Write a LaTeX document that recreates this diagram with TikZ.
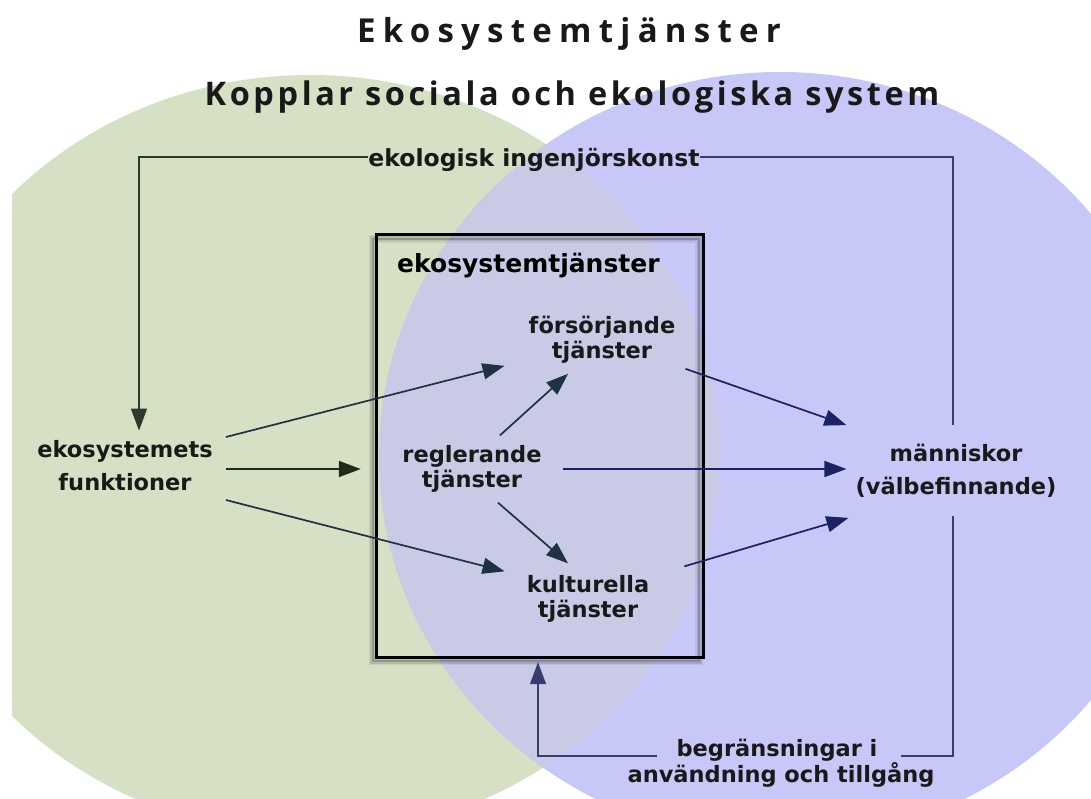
\documentclass[tikz,border=0pt]{standalone}
\usepackage{fontspec}
\setmainfont{DejaVu Sans}
\newfontfamily\headfont[LetterSpace=22]{Open Sans}
\newfontfamily\subheadfont[LetterSpace=11]{Open Sans}
\usetikzlibrary{arrows.meta}

\definecolor{ecogreen}{HTML}{D6E0C4}
\definecolor{socblue}{HTML}{C8C8F8}
\definecolor{mixcol}{HTML}{C9CBE6}
\definecolor{darkgreen}{HTML}{1E2B18}
\definecolor{slate}{HTML}{1F3144}
\definecolor{navy}{HTML}{1B2262}
\definecolor{loopgreen}{HTML}{2E3A2A}
\definecolor{loopblue}{HTML}{363C6E}

\begin{document}
\begin{tikzpicture}[x=1pt,y=-1pt,
  lbl/.style={font=\bfseries\fontsize{22.5}{25}\selectfont, align=center, inner sep=0pt, text=black!90},
  widelbl/.style={lbl, font=\bfseries\fontsize{22.5}{33}\selectfont},
  headtip/.style={-{Triangle[length=22pt,width=16pt]}},
  flowarrow/.style={line width=1.7pt, headtip},
  loopline/.style={line width=1.3pt},
]
\useasboundingbox (0,0) rectangle (1091,799);

% the two overlapping systems
\begin{scope}
  \clip (12,0) rectangle (1091,799);
  \fill[ecogreen] (310,455) ellipse [x radius=410pt, y radius=380pt];
  \fill[socblue] (780,457) ellipse [x radius=401pt, y radius=385pt];
  \clip (310,455) ellipse [x radius=410pt, y radius=380pt];
  \fill[mixcol] (780,457) ellipse [x radius=401pt, y radius=385pt];
\end{scope}

% headings
\node[font=\headfont\bfseries\fontsize{33}{38}\selectfont, text=black!90] (title) at (569,34) {Ekosystemtjänster};
\node[font=\subheadfont\bfseries\fontsize{32.5}{38}\selectfont, text=black!90] (subtitle) at (572,97) {Kopplar sociala och ekologiska system};

% the ecosystem services box with a soft shadow
\path node[minimum width=326pt, minimum height=422pt, inner sep=0pt] (box) at (540,446) {};
\foreach \w/\o in {8/0.07, 5/0.1, 2.5/0.18}
  \draw[black, opacity=\o, line width=\w pt]
    ([shift={(-4pt,-4pt)}]box.north west) rectangle ([shift={(-4pt,-4pt)}]box.south east);
\draw[line width=3pt] (box.north west) rectangle (box.south east);
\node[anchor=base west, font=\bfseries\fontsize{25}{30}\selectfont, inner sep=0pt] (boxlabel) at (397,273) {ekosystemtjänster};

% labels
\node[lbl, font=\bfseries\fontsize{23.5}{25}\selectfont] (ekologisk) at (534,160) {ekologisk ingenjörskonst};
\node[widelbl] (ekofunk) at (125,466) {ekosystemets\\funktioner};
\node[lbl] (forsorjande) at (602,340) {försörjande\\tjänster};
\node[lbl] (reglerande) at (472,469) {reglerande\\tjänster};
\node[lbl] (kulturella) at (588,599) {kulturella\\tjänster};
\node[widelbl] (manniskor) at (956,471) {människor\\(välbefinnande)};
\node[lbl, anchor=base] (bg1) at (777,756) {begränsningar i};
\node[lbl, anchor=base] (bg2) at (781,782) {användning och tillgång};

% flows from the ecosystem functions
\coordinate (boxin) at (ekofunk.east -| box.west);
\draw[flowarrow, slate] ([shift={(13pt,29pt)}]ekofunk.east) -- ([shift={(-24pt,-2pt)}]forsorjande.south west);
\draw[flowarrow, darkgreen] ([shift={(13pt,-3pt)}]ekofunk.east) -- ([shift={(-16pt,-3pt)}]boxin);
\draw[flowarrow, slate] ([shift={(13pt,-34pt)}]ekofunk.east) -- ([shift={(-22pt,4pt)}]kulturella.north west);

% flows inside the box
\draw[flowarrow, slate] ([shift={(28pt,10pt)}]reglerande.north) -- ([shift={(-34pt,-10pt)}]forsorjande.south);
\draw[flowarrow, slate] ([shift={(26pt,-10pt)}]reglerande.south) -- ([shift={(-20pt,12pt)}]kulturella.north);

% flows to people
\coordinate (peoplein) at (reglerande.east -| manniskor.west);
\draw[flowarrow, navy] ([xshift=21pt]reglerande.east) -- ([xshift=-9pt]peoplein);
\draw[flowarrow, navy] ([shift={(10pt,-5pt)}]forsorjande.south east) -- ([shift={(-9pt,19pt)}]manniskor.north west);
\draw[flowarrow, navy] ([shift={(35pt,9pt)}]kulturella.north east) -- ([shift={(-7pt,-20pt)}]manniskor.south west);

% feedback: ecological engineering
\coordinate (rtop) at ([shift={(-3pt,19pt)}]manniskor.north);
\draw[loopline, loopblue] (rtop) |- ([yshift=3pt]ekologisk.east);
\draw[loopline, loopgreen, headtip] ([yshift=3pt]ekologisk.west) -| ([shift={(14pt,10pt)}]ekofunk.north);

% feedback: limits on use and access
\coordinate (rbot) at ([shift={(-3pt,-18pt)}]manniskor.south);
\draw[loopline, loopblue] (rbot) |- ([xshift=23pt]bg1.base east);
\draw[loopline, loopblue, headtip] ([xshift=-19pt]bg1.base west) -| ([shift={(-2pt,-5pt)}]box.south);
\end{tikzpicture}
\end{document}
